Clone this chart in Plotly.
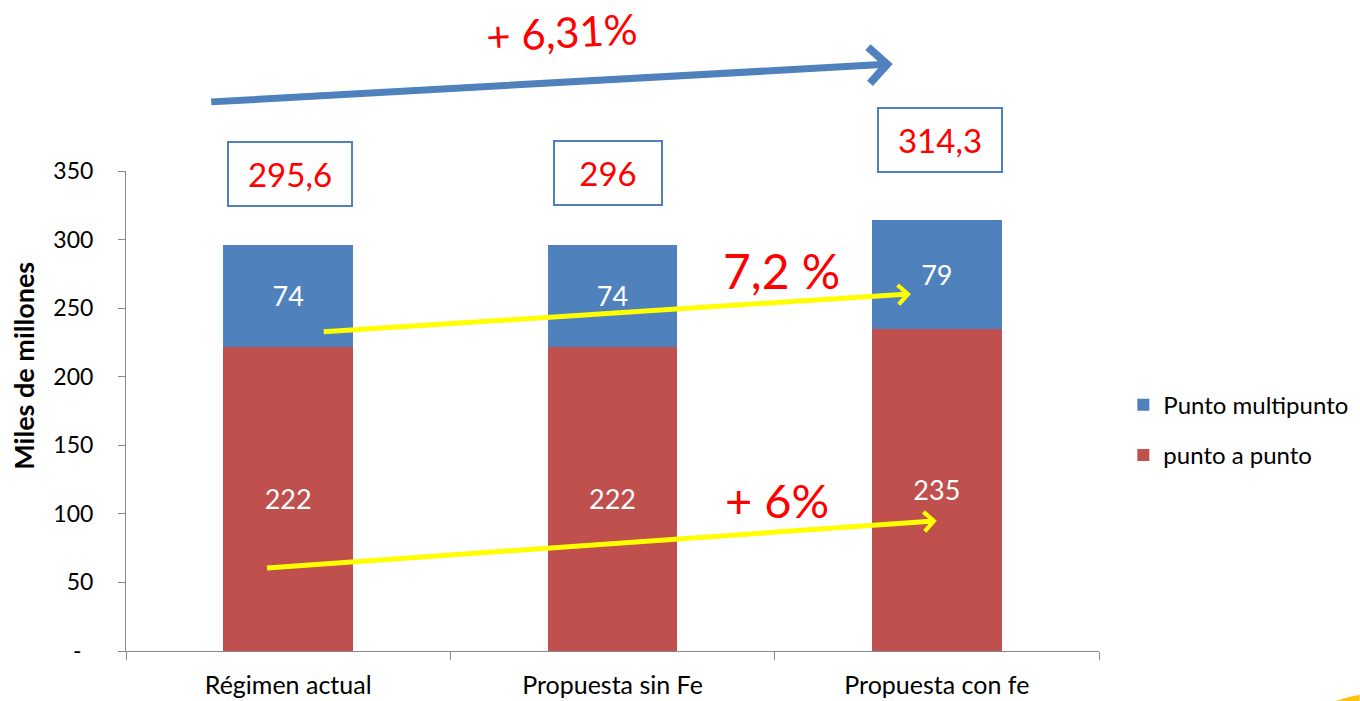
import plotly.graph_objects as go

# Categories and stacked values (miles de millones)
categories = ["Régimen actual", "Propuesta sin Fe", "Propuesta con fe"]
punto_a_punto = [222, 222, 235]
punto_multipunto = [74, 74, 79]
totals_text = ["295,6", "296", "314,3"]

y_tickvals = [0, 50, 100, 150, 200, 250, 300, 350]
y_ticktext = ["-\u00a0\u00a0", "50", "100", "150", "200", "250", "300", "350"]

BLUE = "#4F81BD"
RED = "#C0504D"
FONT = "Lato"

fig = go.Figure()
fig.add_trace(go.Bar(
    x=categories, y=punto_a_punto, name="punto a punto",
    marker=dict(color=RED, line=dict(width=0)),
    text=[str(v) for v in punto_a_punto], textposition="inside",
    insidetextanchor="middle", textfont=dict(color="white", size=27, family=FONT),
    legendgroup="a", legendrank=2,
))
fig.add_trace(go.Bar(
    x=categories, y=punto_multipunto, name="Punto multipunto",
    marker=dict(color=BLUE, line=dict(width=0)),
    text=[str(v) for v in punto_multipunto], textposition="inside",
    insidetextanchor="middle", textfont=dict(color="white", size=27, family=FONT),
    legendgroup="b", legendrank=1,
))

annotations = []

# Total boxes above each bar
box_y = [0.994, 0.996, 1.064]
box_w = [120, 104, 120]
for i, (t, yy, w) in enumerate(zip(totals_text, box_y, box_w)):
    annotations.append(dict(
        x=categories[i], y=yy, xref="x", yref="paper", xanchor="center", yanchor="middle",
        text=t, showarrow=False,
        font=dict(color="#FF0000", size=33, family=FONT),
        bordercolor=BLUE, borderwidth=2, borderpad=1, bgcolor="white",
        width=w, height=60, xshift=[2, -5, 3][i],
    ))

# Overall growth arrow and label
annotations.append(dict(
    x=0.788, y=1.223, xref="paper", yref="paper", ax=-683, ay=38,
    showarrow=True, arrowhead=4, arrowsize=1.0, arrowwidth=7, arrowcolor=BLUE,
    text="",
))
annotations.append(dict(
    x=0.448, y=1.29, xref="paper", yref="paper", xanchor="center", yanchor="middle",
    text="+ 6,31%", showarrow=False,
    textangle=-3, font=dict(color="#FF0000", size=42, family=FONT),
))

# Yellow growth arrows for each series (positions on the category index scale)
annotations.append(dict(
    x=1.92, y=260.4, xref="x", yref="y", ax=0.105, ay=232.7, axref="x", ayref="y",
    showarrow=True, arrowhead=4, arrowsize=0.75, arrowwidth=5, arrowcolor="#FFFF00",
    text="",
))
annotations.append(dict(
    x=2.0, y=95, xref="x", yref="y", ax=-0.07, ay=60.5, axref="x", ayref="y",
    showarrow=True, arrowhead=4, arrowsize=0.75, arrowwidth=5, arrowcolor="#FFFF00",
    text="",
))
annotations.append(dict(
    x=1.52, y=277.2, xref="x", yref="y", xanchor="center", yanchor="middle",
    text="7,2 %", showarrow=False,
    font=dict(color="#FF0000", size=48, family=FONT),
))
annotations.append(dict(
    x=1.508, y=110.1, xref="x", yref="y", xanchor="center", yanchor="middle",
    text="+ 6%", showarrow=False,
    font=dict(color="#FF0000", size=47, family=FONT),
))

# Y axis title
annotations.append(dict(
    x=-0.105, y=0.594, xref="paper", yref="paper", xanchor="center", yanchor="middle",
    text="<b>Miles de millones</b>",
    showarrow=False, textangle=-90, font=dict(color="black", size=27, family=FONT),
))

fig.update_layout(
    annotations=annotations,
    barmode="stack",
    bargap=0.6,
    width=1360, height=701,
    margin=dict(l=126, r=261, t=171, b=50, autoexpand=False),
    paper_bgcolor="white", plot_bgcolor="white",
    font=dict(family=FONT, size=24, color="black"),
    showlegend=True,
    legend=dict(
        x=1.025, y=0.46, xanchor="left", yanchor="middle",
        traceorder="grouped", tracegroupgap=16,
        font=dict(size=24, family=FONT, color="black"),
        bgcolor="rgba(0,0,0,0)",
    ),
    shapes=[dict(
        type="path", xref="paper", yref="paper",
        path="M 1.243 -0.104 Q 1.255 -0.095 1.268 -0.091 L 1.268 -0.104 Z",
        fillcolor="#FFC20E", line=dict(width=0),
    )],
)

fig.update_xaxes(
    type="category", categoryorder="array", categoryarray=categories,
    range=[-0.5, 2.5], automargin=False,
    showline=True, linecolor="#898989", linewidth=1,
    ticks="outside", tickson="boundaries", ticklen=8, tickcolor="#898989",
    showgrid=False, zeroline=False, ticklabelstandoff=12,
    tickfont=dict(size=25, family=FONT, color="black"),
)
fig.update_yaxes(
    range=[0, 350], tickvals=y_tickvals, ticktext=y_ticktext, automargin=False,
    showline=True, linecolor="#898989", linewidth=1,
    ticks="outside", ticklen=7, tickcolor="#898989",
    showgrid=False, zeroline=False, ticklabelstandoff=20,
    tickfont=dict(size=23, family=FONT, color="black"),
)

fig.write_html("out.html")
